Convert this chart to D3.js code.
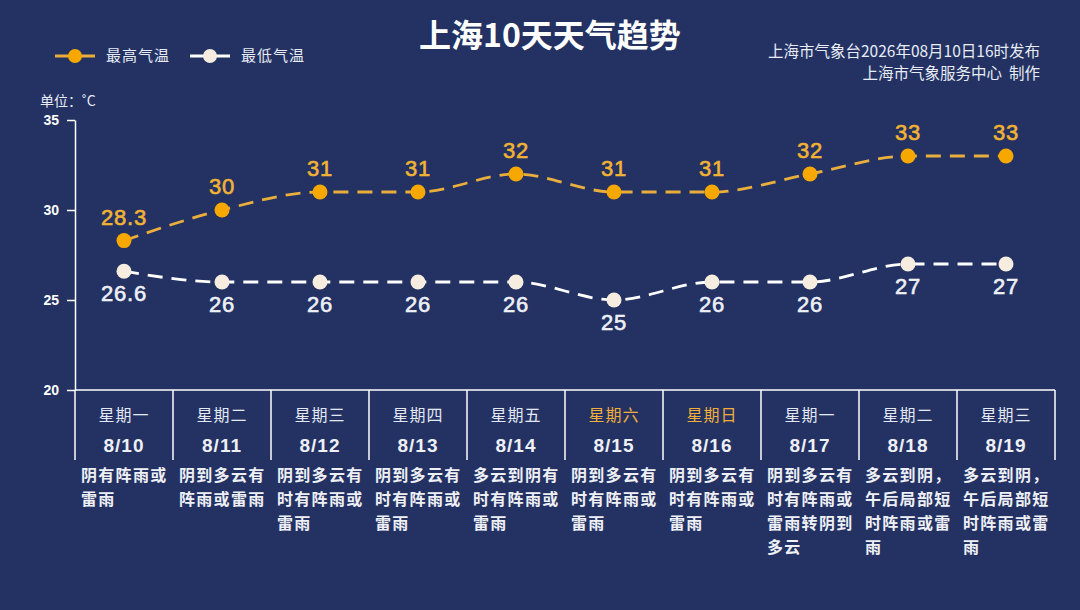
<!DOCTYPE html>
<html>
<head>
<meta charset="utf-8">
<script src="https://cdn.jsdelivr.net/npm/d3@7"></script>
<style>
  body { margin: 0; background: #233263; }
  svg { display: block; font-family: "Liberation Sans", "Noto Sans CJK SC", sans-serif; }
</style>
</head>
<body>
<div id="container"></div>
<script>
/* DATA */
const weekdays = ["星期一", "星期二", "星期三", "星期四", "星期五", "星期六", "星期日", "星期一", "星期二", "星期三"];
const dates = ["8/10", "8/11", "8/12", "8/13", "8/14", "8/15", "8/16", "8/17", "8/18", "8/19"];
const highTemps = [28.3, 30, 31, 31, 32, 31, 31, 32, 33, 33];
const lowTemps = [26.6, 26, 26, 26, 26, 25, 26, 26, 27, 27];
const weather = [
  "阴有阵雨或雷雨",
  "阴到多云有阵雨或雷雨",
  "阴到多云有时有阵雨或雷雨",
  "阴到多云有时有阵雨或雷雨",
  "多云到阴有时有阵雨或雷雨",
  "阴到多云有时有阵雨或雷雨",
  "阴到多云有时有阵雨或雷雨",
  "阴到多云有时有阵雨或雷雨转阴到多云",
  "多云到阴，午后局部短时阵雨或雷雨",
  "多云到阴，午后局部短时阵雨或雷雨"
];
const weekendCols = [5, 6];
const yTicks = [20, 25, 30, 35];

/* CONSTANTS */
const width = 1080, height = 610;
const margin = { top: 120, left: 75, right: 25, bottom: 220 };
const orange = "#f7a800", orangeLine = "#e9ae3c", cream = "#f6ede0";
const cjk = "'Noto Sans CJK SC', sans-serif";

const svg = d3.select("#container")
  .append("svg")
  .attr("width", width)
  .attr("height", height);

svg.append("rect").attr("width", width).attr("height", height).attr("fill", "#233263");

// scales
const xScale = d3.scaleBand()
  .domain(d3.range(dates.length))
  .range([margin.left, width - margin.right]);

const yScale = d3.scaleLinear()
  .domain([20, 35])
  .range([height - margin.bottom, margin.top]);

const cx = i => xScale(i) + xScale.bandwidth() / 2;

// title
svg.append("text")
  .attr("x", 550).attr("y", 47)
  .attr("text-anchor", "middle")
  .attr("fill", "#fff")
  .attr("font-size", 32).attr("font-weight", "bold")
  .attr("font-family", cjk)
  .text("上海10天天气趋势");

// source
svg.append("g")
  .selectAll("text")
  .data(["上海市气象台2026年08月10日16时发布", "上海市气象服务中心  制作"])
  .join("text")
  .attr("x", 1040)
  .attr("y", (d, i) => 57 + i * 22)
  .attr("text-anchor", "end")
  .attr("fill", "#e8ecf5")
  .attr("font-size", 15.5)
  .attr("font-family", cjk)
  .style("white-space", "pre")
  .text(d => d);

// legend
const legend = svg.append("g");
[["最高气温", orangeLine, orange, 55], ["最低气温", "#fff", cream, 190]].forEach(([label, lc, dc, x0]) => {
  legend.append("line")
    .attr("x1", x0).attr("x2", x0 + 40).attr("y1", 56).attr("y2", 56)
    .attr("stroke", lc).attr("stroke-width", 3);
  legend.append("circle").attr("cx", x0 + 20).attr("cy", 56).attr("r", 7).attr("fill", dc);
  legend.append("text")
    .attr("x", x0 + 51).attr("y", 61)
    .attr("fill", "#e8ecf5").attr("font-size", 15)
    .attr("font-family", cjk)
    .attr("letter-spacing", 1)
    .text(label);
});

// unit
svg.append("text")
  .attr("x", 40).attr("y", 106)
  .attr("fill", "#e8ecf5").attr("font-size", 14)
  .attr("font-family", cjk)
  .text("单位：˚C");

// y axis
const yAxis = d3.axisLeft(yScale).tickValues(yTicks).tickSize(8).tickSizeOuter(0);
const yG = svg.append("g")
  .attr("transform", `translate(${margin.left},0)`)
  .call(yAxis);
yG.select(".domain").attr("stroke", "#fff").attr("stroke-width", 1.5);
yG.selectAll(".tick line").attr("stroke", "#fff").attr("stroke-width", 1.5);
yG.selectAll(".tick text")
  .attr("fill", "#fff").attr("font-size", 14).attr("font-weight", "bold")
  .attr("x", -16)
  .attr("font-family", "'Liberation Sans', sans-serif");

// baseline across table
svg.append("line")
  .attr("x1", margin.left).attr("x2", width - margin.right)
  .attr("y1", yScale(20)).attr("y2", yScale(20))
  .attr("stroke", "#fff").attr("stroke-width", 1.5);

// column separators
const tableTop = yScale(20), tableBottom = yScale(20) + 70;
svg.append("g")
  .selectAll("line")
  .data(d3.range(dates.length + 1))
  .join("line")
  .attr("x1", i => i < dates.length ? xScale(i) : xScale(i - 1) + xScale.bandwidth())
  .attr("x2", i => i < dates.length ? xScale(i) : xScale(i - 1) + xScale.bandwidth())
  .attr("y1", tableTop).attr("y2", tableBottom)
  .attr("stroke", "#fff").attr("stroke-width", 1.5);

// weekday + date
const cols = svg.append("g").selectAll("g")
  .data(dates.map((d, i) => ({ date: d, wd: weekdays[i], w: weather[i], i })))
  .join("g");

cols.append("text")
  .attr("x", d => cx(d.i)).attr("y", 421)
  .attr("text-anchor", "middle")
  .attr("font-size", 16)
  .attr("letter-spacing", 1)
  .attr("font-family", cjk)
  .attr("fill", d => weekendCols.includes(d.i) ? "#f2ae3a" : "#e4e8f2")
  .text(d => d.wd);

cols.append("text")
  .attr("x", d => cx(d.i)).attr("y", 452)
  .attr("text-anchor", "middle")
  .attr("font-size", 19).attr("font-weight", "bold")
  .attr("fill", "#eef0f6")
  .attr("letter-spacing", 1)
  .text(d => d.date);

// weather description, 5 chars per line
cols.each(function(d) {
  const chars = Array.from(d.w);
  const lines = [];
  for (let k = 0; k < chars.length; k += 5) lines.push(chars.slice(k, k + 5).join(""));
  d3.select(this).append("text")
    .attr("font-size", 16).attr("font-weight", "bold")
    .attr("font-family", cjk)
    .attr("fill", "#eef0f6")
    .attr("letter-spacing", 1.3)
    .selectAll("tspan")
    .data(lines)
    .join("tspan")
    .attr("x", xScale(d.i) + 6)
    .attr("y", (l, k) => 481 + k * 24)
    .text(l => l);
});

// lines
const line = d3.line()
  .x((d, i) => cx(i))
  .y(d => yScale(d))
  .curve(d3.curveMonotoneX);

function drawSeries(values, lineColor, dotColor, labelColor, above) {
  svg.append("path")
    .datum(values)
    .attr("d", line)
    .attr("fill", "none")
    .attr("stroke", lineColor)
    .attr("stroke-width", 2.8)
    .attr("stroke-dasharray", "15,9");

  svg.append("g").selectAll("circle")
    .data(values)
    .join("circle")
    .attr("cx", (d, i) => cx(i))
    .attr("cy", d => yScale(d))
    .attr("r", 7.5)
    .attr("fill", dotColor);

  svg.append("g").selectAll("text")
    .data(values)
    .join("text")
    .attr("x", (d, i) => cx(i))
    .attr("y", d => yScale(d) + (above ? -16 : 30))
    .attr("text-anchor", "middle")
    .attr("font-size", 22)
    .attr("letter-spacing", 0.8)
    .attr("fill", labelColor)
    .attr("stroke", labelColor)
    .attr("stroke-width", 0.6)
    .text(d => d);
}

drawSeries(highTemps, orangeLine, orange, "#f2b233", true);
drawSeries(lowTemps, "#ffffff", cream, "#eef0f6", false);
</script>
</body>
</html>
